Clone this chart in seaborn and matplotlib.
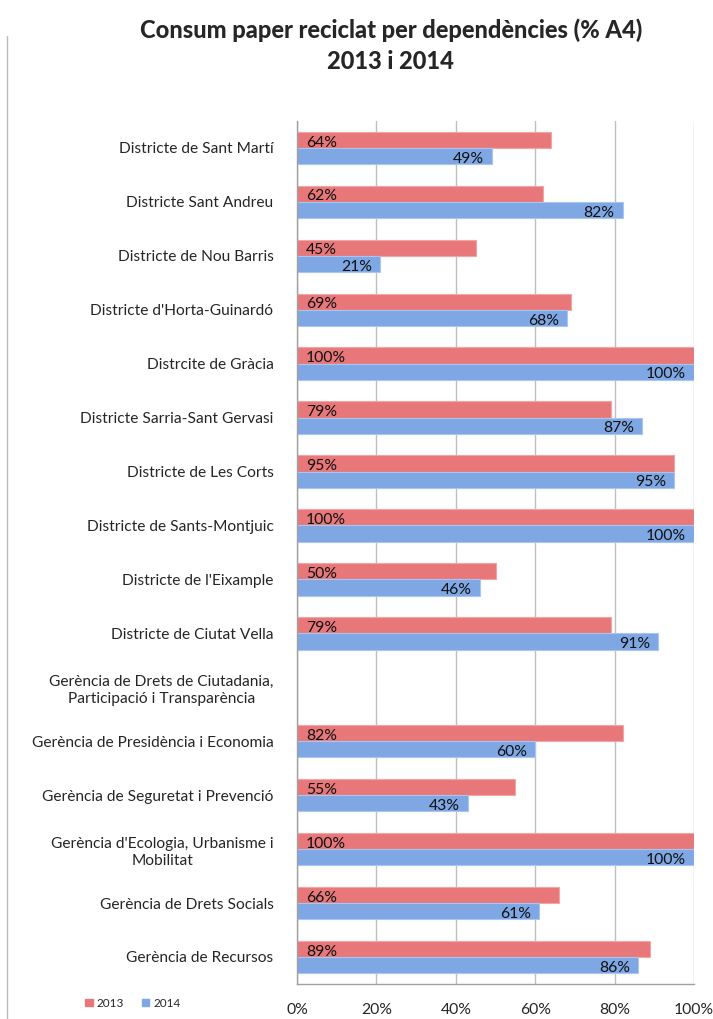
import pandas as pd
import numpy as np
import matplotlib
matplotlib.use('Agg')
import matplotlib.pyplot as plt
import seaborn as sns
from matplotlib.lines import Line2D

# dades
categories = [
    'Districte de Sant Martí',
    'Districte Sant Andreu',
    'Districte de Nou Barris',
    "Districte d'Horta-Guinardó",
    'Distrcite de Gràcia',
    'Districte Sarria-Sant Gervasi',
    'Districte de Les Corts',
    'Districte de Sants-Montjuic',
    "Districte de l'Eixample",
    'Districte de Ciutat Vella',
    'Gerència de Drets de Ciutadania,\nParticipació i Transparència',
    'Gerència de Presidència i Economia',
    'Gerència de Seguretat i Prevenció',
    "Gerència d'Ecologia, Urbanisme i\nMobilitat",
    'Gerència de Drets Socials',
    'Gerència de Recursos',
]
vals_2013 = [64, 62, 45, 69, 100, 79, 95, 100, 50, 79, np.nan, 82, 55, 100, 66, 89]
vals_2014 = [49, 82, 21, 68, 100, 87, 95, 100, 46, 91, np.nan, 60, 43, 100, 61, 86]
years = ['2013', '2014']
xticks = [0, 20, 40, 60, 80, 100]

df = pd.DataFrame({
    'cat': categories * 2,
    'any': ['2013'] * len(categories) + ['2014'] * len(categories),
    'val': vals_2013 + vals_2014,
})

sns.set_style('white')
plt.rcParams['font.family'] = ['Lato', 'DejaVu Sans']

fig = plt.figure(figsize=(7.13, 10.19), dpi=100)
ax = fig.add_axes([0.4166, 0.0344, 0.5568, 0.8469])

colors = {'2013': '#E8777A', '2014': '#7EA7E4'}
sns.barplot(data=df, y='cat', x='val', hue='any', order=categories, hue_order=years,
            palette=colors, orient='h', width=0.6, gap=0, ax=ax, legend=False,
            edgecolor='none', saturation=1)

# vora mes clara, per imitar el degradat
for cont, ec in zip(ax.containers, ['#F3A5A6', '#A9C6F1']):
    for p in cont:
        p.set_edgecolor(ec)
        p.set_linewidth(0.8)

ax.set_xlim(0, 100)
ax.set_ylim(len(categories) - 0.5, -0.5)
ax.set_xticks(xticks)
ax.set_xticklabels([f'{t}%' for t in xticks], fontsize=11.3)
ax.xaxis.grid(True, color='#BFBFBF', linewidth=1)
ax.set_axisbelow(True)
ax.set_xlabel('')
ax.set_ylabel('')

ax.set_yticks(range(len(categories)))
ax.set_yticklabels(categories, fontsize=11.2, multialignment='center', linespacing=1.3)
ax.tick_params(axis='y', length=0, pad=17)
ax.set_yticks(np.arange(-0.5, len(categories), 1), minor=True)
ax.tick_params(axis='y', which='minor', length=5, color='#A0A0A0', width=1)
ax.tick_params(axis='x', length=5, color='#A0A0A0', width=1, pad=9, direction='out')

for s in ['top', 'right']:
    ax.spines[s].set_visible(False)
for s in ['left', 'bottom']:
    ax.spines[s].set_color('#A0A0A0')
    ax.spines[s].set_linewidth(1)

# etiquetes
for p in ax.containers[0]:
    w = p.get_width()
    if np.isnan(w) or w == 0:
        continue
    yc = p.get_y() + p.get_height() / 2
    ax.text(2.3, yc + 0.05, f'{w:.0f}%', ha='left', va='center', fontsize=11.3, color='#111111')
for p in ax.containers[1]:
    w = p.get_width()
    if np.isnan(w) or w == 0:
        continue
    yc = p.get_y() + p.get_height() / 2
    ax.text(w - 2.0, yc + 0.05, f'{w:.0f}%', ha='right', va='center', fontsize=11.3, color='#111111')

fig.text(0.548, 0.970, 'Consum paper reciclat per dependències (% A4)', ha='center', va='center',
         fontsize=17, fontweight='black')
fig.text(0.548, 0.940, '2013 i 2014', ha='center', va='center', fontsize=17, fontweight='black')

handles = [plt.Rectangle((0, 0), 1, 1, color=colors[y]) for y in years]
fig.legend(handles, years, loc='center left', bbox_to_anchor=(0.105, 0.0155), ncol=2,
           frameon=False, fontsize=8.5, handlelength=0.6, handleheight=0.6, handletextpad=0.3,
           columnspacing=1.6)

fig.add_artist(Line2D([0.0105, 0.0105], [0.0, 0.965], color='#BBBBBB', linewidth=1,
                      transform=fig.transFigure))

fig.savefig('out.png', dpi=100)
